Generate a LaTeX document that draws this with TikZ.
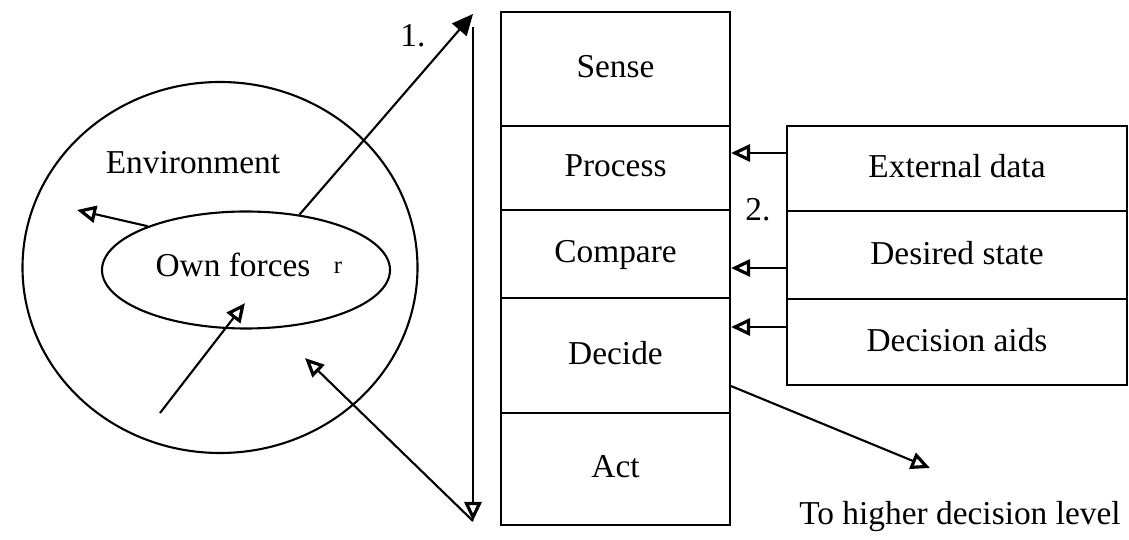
\documentclass[tikz,border=0pt]{standalone}
\usepackage{fontspec}
\setmainfont{Liberation Serif}
\usetikzlibrary{shapes.geometric,arrows.meta,positioning,calc}

\begin{document}
\begin{tikzpicture}[line width=1.2pt, every node/.style={font=\fontsize{19}{23}\selectfont},
    stage/.style={draw, rectangle, minimum width=4.58cm, inner sep=0pt, text depth=0.1cm},
    source/.style={draw, rectangle, minimum width=6.8cm, inner sep=0pt, text depth=0.1cm},
    open tip/.style={-{Triangle[open,length=0.38cm,width=0.34cm,line width=1.8pt]}},
    full tip/.style={-{Triangle[length=0.42cm,width=0.38cm]}}]
    \useasboundingbox (0,0) rectangle (22.58,10.8);

    % environment with own forces
    \node[draw, ellipse, minimum width=7.9cm, minimum height=7.42cm, inner sep=0pt] (env) at (4.4,5.45) {};
    \node[draw, ellipse, minimum width=5.76cm, minimum height=2.34cm, inner sep=0pt] (own) at (4.92,5.4) {};
    \node (envtext) at (3.86,7.54) {Environment};
    \node (owntext) at (4.66,5.5) {Own forces};
    \node (mark) at (6.76,5.45) {\fontsize{14}{16}\selectfont r};

    % decision stages
    \node[stage, minimum height=2.28cm] (sense) at (12.31,9.42) {Sense};
    \node[stage, minimum height=1.68cm] (process) at (12.31,7.44) {Process};
    \node[stage, minimum height=1.76cm] (compare) at (12.31,5.72) {Compare};
    \node[stage, minimum height=2.3cm] (decide) at (12.31,3.69) {Decide};
    \node[stage, minimum height=2.24cm] (act) at (12.31,1.42) {Act};

    % inputs
    \node[source, minimum height=1.7cm] (ext) at (19.14,7.43) {External data};
    \node[source, minimum height=1.76cm] (desired) at (19.14,5.7) {Desired state};
    \node[source, minimum height=1.72cm] (aids) at (19.14,3.96) {Decision aids};

    \node (one) at (8.26,10.08) {1.};
    \node (two) at (15.16,6.6) {2.};
    \node (higher) at (19.2,0.46) {To higher decision level};

    \coordinate (looptop) at (9.46,10.52);
    \coordinate (linetop) at (9.46,10.26);
    \coordinate (linebot) at (9.46,0.38);
    \coordinate (envin) at (6.1,3.64);
    \coordinate (ownin) at (3.2,2.54);
    \coordinate (ownout) at (1.54,6.6);
    \coordinate (up) at (18.6,1.44);
    \coordinate (e1) at ([yshift=0.31cm]ext.west);
    \coordinate (d1) at ([yshift=-0.26cm]desired.west);
    \coordinate (a1) at ([yshift=0.3cm]aids.west);

    % connectors
    \draw[full tip] (own.46) -- (looptop);
    \draw[open tip] (linetop) -- (linebot);
    \draw[open tip] (linebot) -- (envin);
    \draw[open tip] (own.156) -- (ownout);
    \draw[open tip] (ownin) -- ([shift={(-0.02,0.53)}]own.south);
    \draw[open tip] (e1) -- (e1 -| process.east);
    \draw[open tip] (d1) -- (d1 -| compare.east);
    \draw[open tip] (a1) -- (a1 -| decide.east);
    \draw[open tip] ([yshift=0.56cm]decide.south east) -- (up);
\end{tikzpicture}
\end{document}
